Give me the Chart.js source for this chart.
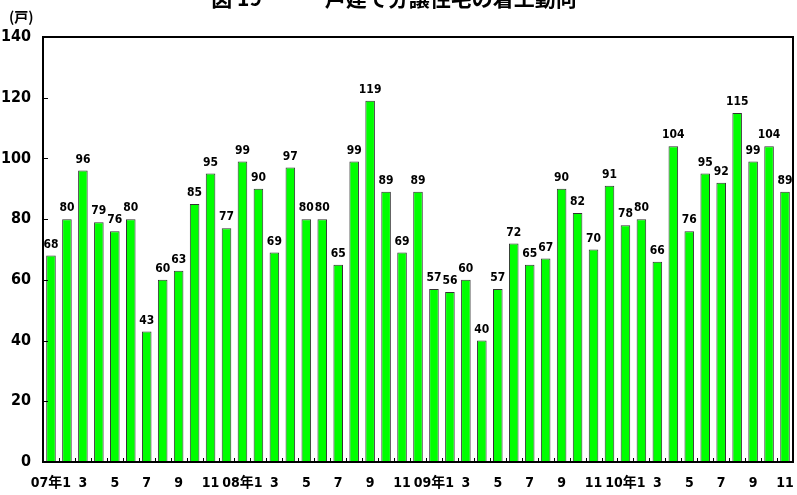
<!DOCTYPE html>
<html>
<head>
<meta charset="utf-8">
<script src="https://cdn.jsdelivr.net/npm/chart.js@4"></script>
<style>
  html, body { margin: 0; padding: 0; background: #fff; }
  #wrap { width: 797px; height: 495px; }
</style>
</head>
<body>
<div id="wrap"><canvas id="starts"></canvas></div>
<script>
// monthly starts, Jan 2007 - Nov 2010
const years = ['07', '08', '09', '10'];
const months = [1, 2, 3, 4, 5, 6, 7, 8, 9, 10, 11, 12];
const values2007 = [68, 80, 96, 79, 76, 80, 43, 60, 63, 85, 95, 77];
const values2008 = [99, 90, 69, 97, 80, 80, 65, 99, 119, 89, 69, 89];
const values2009 = [57, 56, 60, 40, 57, 72, 65, 67, 90, 82, 70, 91];
const values2010 = [78, 80, 66, 104, 76, 95, 92, 115, 99, 104, 89];
const yTicks = [0, 20, 40, 60, 80, 100, 120, 140];

const FONT = '"DejaVu Sans Condensed", "Noto Sans CJK JP", sans-serif';
const CJK = '"Noto Sans CJK JP", sans-serif';

labels = [];
values = [].concat(values2007, values2008, values2009, values2010);
years.forEach((y, yi) => {
    months.forEach(m => {
        if (labels.length < values.length) {
            labels.push(m == 1 ? y + '年' + m : String(m));
        }
    });
});

// frame, inside tick marks, bar values, title and unit
const decorations = {
    id: 'decorations',
    afterDatasetsDraw(chart) {
        const ctx = chart.ctx;
        const area = chart.chartArea;
        const xs = chart.scales.x;
        const ys = chart.scales.y;
        ctx.save();

        // tick marks on the left axis, pointing inward
        ctx.strokeStyle = '#000';
        ctx.lineWidth = 1;
        yTicks.forEach(t => {
            const py = Math.round(ys.getPixelForValue(t)) + 0.5;
            ctx.beginPath();
            ctx.moveTo(area.left, py);
            ctx.lineTo(area.left + 5, py);
            ctx.stroke();
        });
        // small ticks between months along the bottom
        for (let i = 1; i < labels.length; i++) {
            const px = Math.round((xs.getPixelForValue(i - 1) + xs.getPixelForValue(i)) / 2) + 0.5;
            ctx.beginPath();
            ctx.moveTo(px, area.bottom);
            ctx.lineTo(px, area.bottom - 4);
            ctx.stroke();
        }

        // plot frame
        ctx.lineWidth = 2;
        ctx.strokeRect(area.left, area.top, area.right - area.left, area.bottom - area.top);

        // value above each bar
        ctx.fillStyle = '#000';
        ctx.font = 'bold 12px ' + FONT;
        ctx.textAlign = 'center';
        ctx.textBaseline = 'bottom';
        const meta = chart.getDatasetMeta(0);
        meta.data.forEach((bar, i) => {
            ctx.fillText(String(values[i]), bar.x, bar.y - 5);
        });

        // title, cut by the top edge
        ctx.font = 'bold 21px ' + CJK;
        ctx.textBaseline = 'alphabetic';
        ctx.fillText('図 19　　一戸建て分譲住宅の着工動向', 394, 6);

        // unit
        ctx.font = 'bold 14px ' + CJK;
        ctx.textAlign = 'left';
        ctx.fillText('(戸)', 9, 22);
        ctx.restore();
    }
};

new Chart(document.getElementById('starts'), {
    type: 'bar',
    data: {
        labels: labels,
        datasets: [{
            data: values,
            backgroundColor: '#00ff00',
            borderColor: '#333333',
            borderWidth: 1,
            barPercentage: 0.6,
            categoryPercentage: 1.0
        }]
    },
    options: {
        responsive: true,
        maintainAspectRatio: false,
        animation: false,
        layout: { padding: { top: 37, right: 4, left: 0, bottom: 0 } },
        plugins: {
            legend: { display: false },
            tooltip: { enabled: false }
        },
        scales: {
            x: {
                afterFit: axis => {
                    axis.height = 33;
                    axis.paddingLeft = 0;
                    axis.paddingRight = 0;
                },
                grid: { display: false, drawTicks: false },
                border: { display: false },
                ticks: {
                    color: '#000',
                    font: { family: FONT, size: 14, weight: 'bold' },
                    padding: 13,
                    maxRotation: 0,
                    autoSkip: false,
                    callback: function(val, idx) {
                        return idx % 2 == 0 ? labels[idx] : '';
                    }
                }
            },
            y: {
                min: 0,
                max: 140,
                afterBuildTicks: axis => {
                    axis.ticks = yTicks.map(v => ({ value: v }));
                },
                afterFit: axis => { axis.width = 43; },
                grid: { display: false, drawTicks: false },
                border: { display: false },
                ticks: {
                    color: '#000',
                    font: { family: FONT, size: 16, weight: 'bold' },
                    padding: 12
                }
            }
        }
    },
    plugins: [decorations]
});
</script>
</body>
</html>
